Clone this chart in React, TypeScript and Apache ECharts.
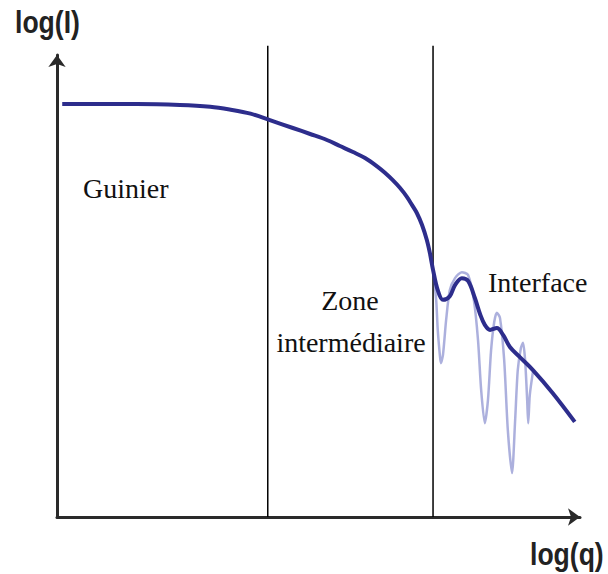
import React, { useEffect, useRef } from "react";
import * as echarts from "echarts";

// log(q) / log(I) readings of the averaged (dark) scattering curve
const qMean = [0.1, 1.53, 2.35, 2.93, 3.3, 3.7, 4.07, 4.51, 4.84, 5.16, 5.41, 5.66, 5.89, 6.12, 6.27, 6.42, 6.56, 6.69, 6.79, 6.88, 6.98, 7.07, 7.13, 7.19, 7.28, 7.38, 7.51, 7.61, 7.74, 7.86, 7.99, 8.09, 8.18, 8.28, 8.41, 8.53, 8.66, 8.85, 9.1, 9.48, 9.9];
const iMean = [8.94, 8.94, 8.92, 8.88, 8.82, 8.73, 8.59, 8.42, 8.29, 8.16, 8.03, 7.9, 7.77, 7.59, 7.45, 7.29, 7.12, 6.93, 6.75, 6.58, 6.32, 6.0, 5.71, 5.35, 4.91, 4.7, 4.78, 5.02, 5.17, 5.11, 4.74, 4.39, 4.16, 4.05, 4.09, 3.94, 3.68, 3.46, 3.18, 2.68, 2.06];

// oscillating (light) curve of the interface region
const qFine = [7.19, 7.25, 7.28, 7.32, 7.34, 7.38, 7.44, 7.51, 7.61, 7.74, 7.86, 7.97, 8.05, 8.11, 8.18, 8.24, 8.3, 8.36, 8.41, 8.47, 8.55, 8.62, 8.7, 8.76, 8.81, 8.87, 8.91, 8.95, 8.99, 9.01, 9.04, 9.1];
const iFine = [5.35, 4.7, 4.05, 3.51, 3.33, 3.51, 4.26, 4.91, 5.17, 5.3, 5.24, 4.7, 3.83, 2.75, 2.03, 2.53, 3.61, 4.22, 4.42, 4.31, 3.4, 1.88, 0.95, 2.1, 3.18, 3.66, 3.77, 3.4, 2.53, 2.03, 2.64, 3.14];

// region boundaries (log q)
const boundaries = [4.03, 7.19];
const boundaryTop = 10.2;

const axisTitles = ["log(I)", "log(q)"];
const regionLabels = ["Guinier", "Zone", "intermédiaire", "Interface"];

export default function App() {
  const ref = useRef<HTMLDivElement>(null);
  useEffect(() => {
    if (!ref.current) return;
    const chart = echarts.init(ref.current, undefined, { renderer: "svg" });
    const axisCommon = {
      type: "value" as const,
      min: 0,
      max: 10,
      axisLine: {
        show: true,
        lineStyle: { color: "#2a2a2a", width: 3 },
        symbol: ["none", "arrow"],
        symbolSize: [13, 12],
      },
      axisTick: { show: false },
      axisLabel: { show: false },
      splitLine: { show: false },
    };
    const serif = "'Liberation Serif', 'Times New Roman', serif";
    const sans = "'Liberation Sans', Arial, sans-serif";
    const boundarySeries = boundaries.map((b) => ({
      type: "line" as const,
      data: [
        [b, 0],
        [b, boundaryTop],
      ],
      symbol: "none",
      clip: false,
      silent: true,
      lineStyle: { color: "#000", width: 1.5 },
      z: 1,
    }));
    chart.setOption({
      animation: false,
      backgroundColor: "#ffffff",
      grid: { left: 57, right: 28, top: 55, bottom: 57 },
      xAxis: axisCommon,
      yAxis: axisCommon,
      series: [
        ...boundarySeries,
        {
          type: "line",
          name: "fine",
          data: qFine.map((q, i) => [q, iFine[i]]),
          smooth: 0.25,
          symbol: "none",
          lineStyle: { color: "rgba(70,80,180,0.45)", width: 2.5 },
          z: 2,
        },
        {
          type: "line",
          name: "mean",
          data: qMean.map((q, i) => [q, iMean[i]]),
          smooth: 0.35,
          symbol: "none",
          lineStyle: { color: "#2d2d8c", width: 4 },
          z: 3,
        },
      ],
      graphic: [
        {
          type: "text",
          x: 15,
          y: 22,
          scaleX: 0.83,
          style: { text: axisTitles[0], font: `bold 32px ${sans}`, fill: "#222", textAlign: "left", textVerticalAlign: "middle" },
        },
        {
          type: "text",
          x: 530,
          y: 554,
          scaleX: 0.83,
          style: { text: axisTitles[1], font: `bold 32px ${sans}`, fill: "#222", textAlign: "left", textVerticalAlign: "middle" },
        },
        {
          type: "text",
          x: 83,
          y: 188.5,
          style: { text: regionLabels[0], font: `28px ${serif}`, fill: "#111", textAlign: "left", textVerticalAlign: "middle" },
        },
        {
          type: "text",
          x: 350,
          y: 300.5,
          style: { text: regionLabels[1], font: `28px ${serif}`, fill: "#111", textAlign: "center", textVerticalAlign: "middle" },
        },
        {
          type: "text",
          x: 351,
          y: 342.5,
          style: { text: regionLabels[2], font: `28px ${serif}`, fill: "#111", textAlign: "center", textVerticalAlign: "middle" },
        },
        {
          type: "text",
          x: 488,
          y: 282.5,
          style: { text: regionLabels[3], font: `28px ${serif}`, fill: "#111", textAlign: "left", textVerticalAlign: "middle" },
        },
      ],
    });
    return () => chart.dispose();
  }, []);
  return (
    <div
      ref={ref}
      style={{ position: "fixed", left: 0, top: 0, width: 608, height: 574, background: "#fff" }}
    />
  );
}
